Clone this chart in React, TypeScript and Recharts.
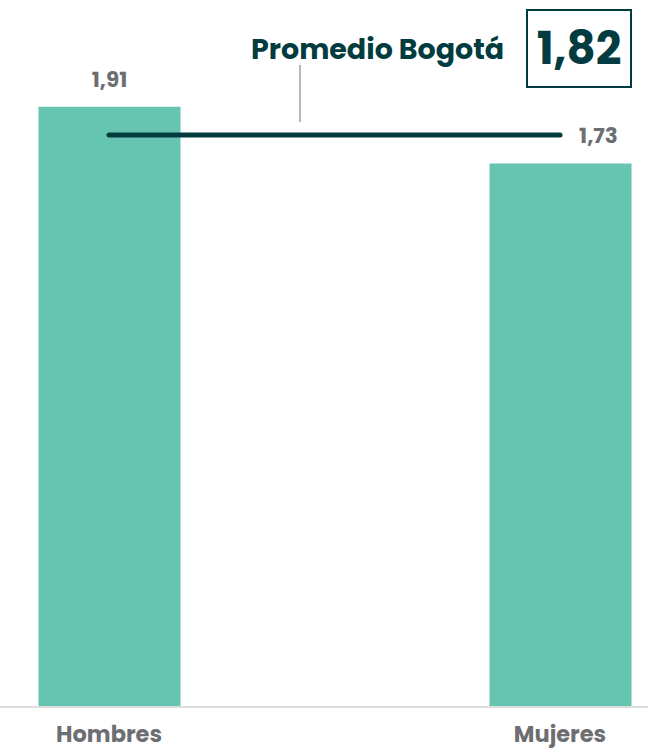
import { Bar, BarChart, LabelList, ReferenceLine, XAxis, YAxis } from "recharts";

const categories = ["Hombres", "Mujeres"];
const values = [1.91, 1.73];
const promedio = 1.82;
const promedioLabel = "Promedio Bogotá";

const BAR = "#65c5b1";
const DARK = "#023c40";
const GRAY = "#6d6e71";
const FONT = "Poppins, Inter, sans-serif";

const fmt = (v: number) => v.toFixed(2).replace(".", ",");

const data = categories.map((name, i) => ({ name, value: values[i] }));

function CategoryTick(props: any) {
  const { x, y, payload } = props;
  return (
    <text x={x} y={y + 35} textAnchor="middle" fill={GRAY} fontSize={22.5} fontWeight={700} fontFamily={FONT}>
      {payload.value}
    </text>
  );
}

function ValueLabel(props: any) {
  const { x, y, width, value, index } = props;
  // the second label sits beside the average line, not above the bar
  const shift = index === 1 ? 38 : 0;
  return (
    <text
      x={x + width / 2 + shift}
      y={y - 20}
      textAnchor="middle"
      fill={GRAY}
      fontSize={21.5}
      fontWeight={700}
      fontFamily={FONT}
    >
      {fmt(value)}
    </text>
  );
}

export default function App() {
  return (
    <div style={{ position: "absolute", left: 0, top: 0, width: 648, height: 751, background: "#fff" }}>
      <BarChart width={648} height={751} data={data} margin={{ top: 0, right: 0, bottom: 0, left: 0 }}>
        <XAxis
          dataKey="name"
          scale="point"
          padding={{ left: 109, right: 88 }}
          height={44}
          tickLine={false}
          tickSize={0}
          tickMargin={0}
          axisLine={{ stroke: "#dedede", strokeWidth: 2 }}
          tick={<CategoryTick />}
          interval={0}
        />
        <YAxis hide domain={[0, 2.25]} />
        <Bar dataKey="value" fill={BAR} barSize={142} isAnimationActive={false}>
          <LabelList dataKey="value" content={<ValueLabel />} />
        </Bar>
        <ReferenceLine
          segment={[
            { x: categories[0], y: promedio },
            { x: categories[1], y: promedio },
          ]}
          stroke={DARK}
          strokeWidth={5}
          strokeLinecap="round"
          ifOverflow="visible"
        />
      </BarChart>
      <div style={{ position: "absolute", left: 299, top: 65, width: 1.5, height: 57, background: "#b8b8b8" }} />
      <div
        style={{
          position: "absolute",
          left: 251,
          top: 30,
          fontFamily: FONT,
          fontWeight: 700,
          fontSize: 28.5,
          color: DARK,
          whiteSpace: "nowrap",
          lineHeight: "38px",
        }}
      >
        {promedioLabel}
      </div>
      <div
        style={{
          position: "absolute",
          left: 526,
          top: 9,
          width: 102,
          height: 75,
          border: `2px solid ${DARK}`,
          display: "flex",
          alignItems: "center",
          justifyContent: "center",
          fontFamily: FONT,
          fontWeight: 700,
          fontSize: 45,
          color: DARK,
        }}
      >
        {fmt(promedio)}
      </div>
    </div>
  );
}
